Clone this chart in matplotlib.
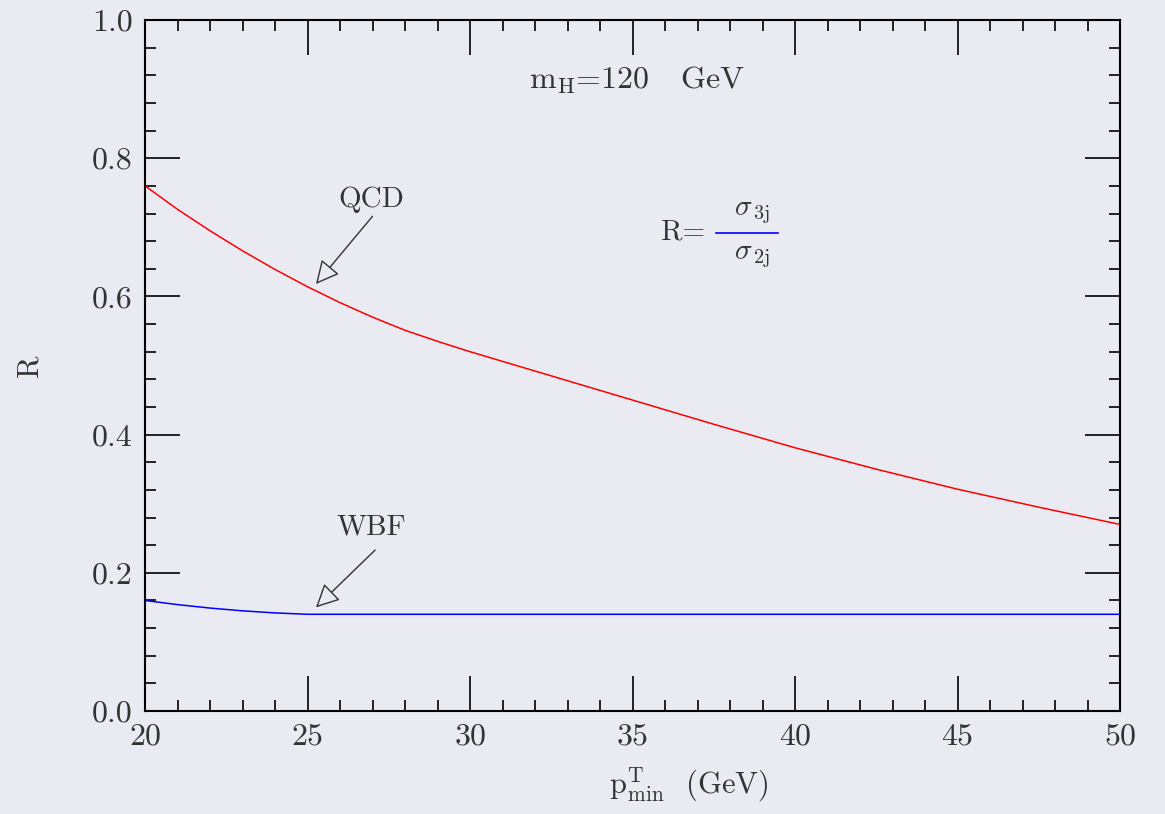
import matplotlib.pyplot as plt
from matplotlib.ticker import MultipleLocator

# values
qcd_x = [20, 21, 22, 23, 24, 25, 26, 27, 28, 29, 30, 32.5, 35, 37.5, 40, 42.5, 45, 47.5, 50]
qcd_r = [0.760, 0.726, 0.695, 0.666, 0.639, 0.614, 0.591, 0.570, 0.551, 0.535, 0.520,
         0.485, 0.450, 0.415, 0.381, 0.350, 0.321, 0.295, 0.270]
wbf_x = [20, 21, 22, 23, 24, 25, 30, 35, 40, 45, 50]
wbf_r = [0.160, 0.154, 0.149, 0.145, 0.142, 0.140, 0.140, 0.140, 0.140, 0.140, 0.140]

bg = '#eaeaf2'
ink = '#333333'
plt.rcParams['font.family'] = ['cmr10', 'DejaVu Serif']
plt.rcParams['mathtext.fontset'] = 'cm'
plt.rcParams['axes.formatter.use_mathtext'] = True

fig = plt.figure(figsize=(11.65, 8.14), dpi=100, facecolor=bg)
ax = fig.add_axes([0.1245, 0.1265, 0.8369, 0.8489], facecolor=bg)

ax.plot(qcd_x, qcd_r, color='red', lw=1.1)
ax.plot(wbf_x, wbf_r, color='blue', lw=1.1)

ax.set_xlim(20, 50)
ax.set_ylim(0, 1)
ax.xaxis.set_major_locator(MultipleLocator(5))
ax.xaxis.set_minor_locator(MultipleLocator(1))
ax.yaxis.set_major_locator(MultipleLocator(0.2))
ax.yaxis.set_minor_locator(MultipleLocator(0.04))
ax.yaxis.set_major_formatter(plt.FormatStrFormatter('%.1f'))
ax.tick_params(which='both', direction='in', top=True, right=True, color='black',
               labelcolor=ink, labelsize=23, width=1.2)
ax.tick_params(which='major', length=25, pad=9)
ax.tick_params(which='minor', length=8)
for s in ax.spines.values():
    s.set_color('black')
    s.set_linewidth(1.5)

ax.set_xlabel(r'$\mathrm{p}^{\mathrm{T}}_{\mathrm{min}}$  (GeV)', fontsize=22, color=ink)
ax.xaxis.set_label_coords(0.558, -0.079)
ax.set_ylabel('R', fontsize=22, color=ink, labelpad=35)

arrow = dict(arrowstyle='-|>', fc=bg, ec=ink, lw=1.0, mutation_scale=36, shrinkA=0, shrinkB=0)
ax.text(26.95, 0.74, 'QCD', ha='center', va='center', fontsize=21, color=ink)
ax.annotate('', xy=(25.26, 0.618), xytext=(27.0, 0.716), arrowprops=arrow)
ax.text(26.95, 0.266, 'WBF', ha='center', va='center', fontsize=21, color=ink)
ax.annotate('', xy=(25.26, 0.150), xytext=(27.08, 0.233), arrowprops=arrow)

ax.text(35.15, 0.913, r'$\mathrm{m_H}$=120   GeV', ha='center', va='center', fontsize=23, color=ink)

ax.text(36.55, 0.693, 'R=', ha='center', va='center', fontsize=21, color=ink)
ax.plot([37.57, 39.48], [0.692, 0.692], color='blue', lw=1.2)
ax.text(38.68, 0.721, r'$\sigma_{\,\mathrm{3j}}$', ha='center', va='center', fontsize=21, color=ink)
ax.text(38.68, 0.657, r'$\sigma_{\,\mathrm{2j}}$', ha='center', va='center', fontsize=21, color=ink)

fig.savefig('out.png', dpi=100, facecolor=bg)
